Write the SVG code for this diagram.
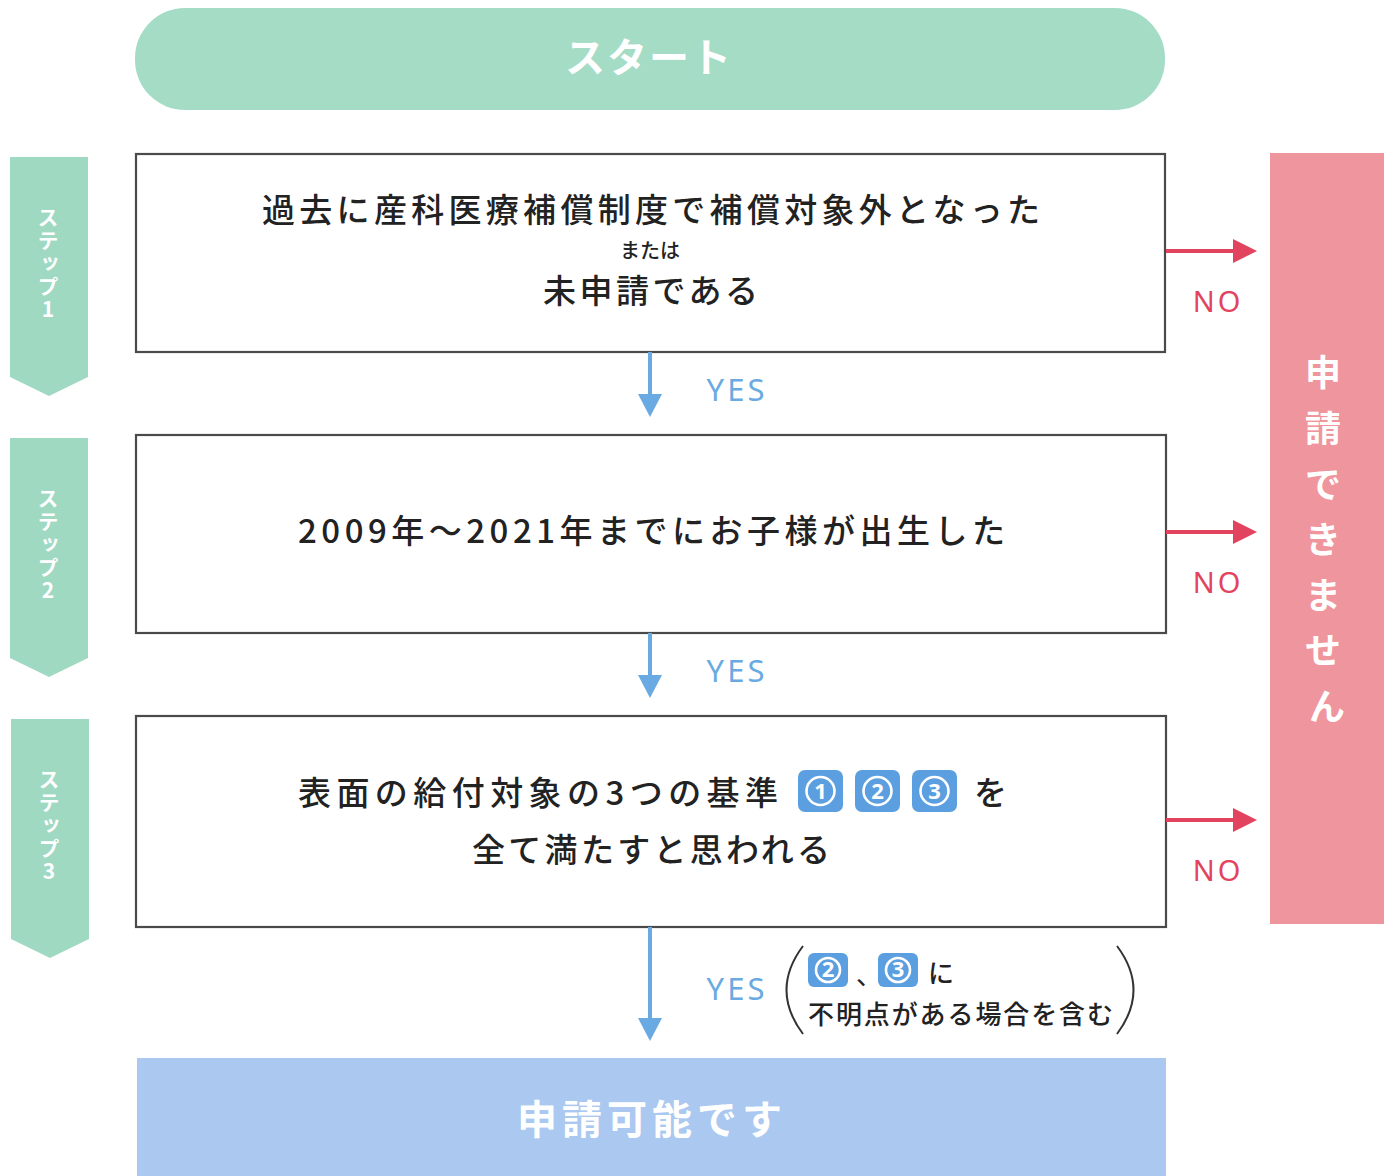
<svg xmlns="http://www.w3.org/2000/svg" width="1392" height="1176" viewBox="0 0 1392 1176">
<defs>
<style>
.jp{font-family:"Noto Sans CJK JP","Noto Sans",sans-serif;}
.box{fill:#fff;stroke:#4a4a4a;stroke-width:2.2;}
.main{font-size:33px;font-weight:500;fill:#222;}
.rib{fill:#a0d9c2;}
.ribt{font-size:21px;font-weight:700;fill:#fff;writing-mode:vertical-rl;text-orientation:upright;letter-spacing:2px;}
.yes{font-size:31px;fill:#6aaae2;letter-spacing:3px;font-family:"Noto Sans","Liberation Sans",sans-serif;}
.no{font-size:29px;fill:#e2435e;letter-spacing:3px;font-family:"Noto Sans","Liberation Sans",sans-serif;}
.blu{stroke:#6aaae2;stroke-width:4;fill:none;}
.red{stroke:#e2435e;stroke-width:4;fill:none;}
.badge{fill:#5c9fe0;}
.bnum{font-size:22px;font-weight:700;fill:#fff;font-family:"Noto Sans","Liberation Sans",sans-serif;}
.ring{fill:none;stroke:#fff;stroke-width:2.6;}
</style>
<marker id="ab" viewBox="0 0 24 24" markerWidth="24" markerHeight="24" refX="12" refY="0" orient="0" markerUnits="userSpaceOnUse">
<path d="M0,0 L24,0 L12,23 Z" fill="#6aaae2"/>
</marker>
<marker id="ar" viewBox="0 0 24 24" markerWidth="24" markerHeight="24" refX="0" refY="12" orient="0" markerUnits="userSpaceOnUse">
<path d="M0,0 L24,12 L0,24 Z" fill="#e2435e"/>
</marker>
</defs>
<rect width="1392" height="1176" fill="#fff"/>

<g id="start">
<rect x="135" y="8" width="1030" height="102" rx="50" fill="#a4dcc6"/>
<text class="jp" x="649" y="72" text-anchor="middle" font-size="40" font-weight="700" fill="#fff" letter-spacing="2">スタート</text>
</g>

<g id="step1-label">
<path class="rib" d="M10,157 H88 V377 L49,396 L10,377 Z"/>
<text class="jp ribt" x="48" y="207">ステップ1</text>
</g>
<g id="step2-label">
<path class="rib" d="M10,438 H88 V658 L49,677 L10,658 Z"/>
<text class="jp ribt" x="48" y="488">ステップ2</text>
</g>
<g id="step3-label">
<path class="rib" d="M11,719 H89 V939 L50,958 L11,939 Z"/>
<text class="jp ribt" x="49" y="769">ステップ3</text>
</g>

<g id="step1">
<rect class="box" x="136" y="154" width="1029" height="198"/>
<text class="jp main" x="262" y="222" textLength="778" lengthAdjust="spacing">過去に産科医療補償制度で補償対象外となった</text>
<text class="jp" x="650" y="258" text-anchor="middle" font-size="20" font-weight="500" fill="#222">または</text>
<text class="jp main" x="543" y="303" textLength="215" lengthAdjust="spacing">未申請である</text>
</g>

<g id="step2">
<rect class="box" x="136" y="435" width="1030" height="198"/>
<text class="jp main" x="298" y="543" textLength="707" lengthAdjust="spacing">2009年～2021年までにお子様が出生した</text>
</g>

<g id="step3">
<rect class="box" x="136" y="716" width="1030" height="211"/>
<text class="jp main" x="298" y="805" textLength="480" lengthAdjust="spacing">表面の給付対象の3つの基準</text>
<rect class="badge" x="798" y="770" width="45" height="42" rx="7"/>
<circle class="ring" cx="820.5" cy="791" r="14"/>
<text class="bnum" x="820.5" y="799" text-anchor="middle">1</text>
<rect class="badge" x="855" y="770" width="45" height="42" rx="7"/>
<circle class="ring" cx="877.5" cy="791" r="14"/>
<text class="bnum" x="877.5" y="799" text-anchor="middle">2</text>
<rect class="badge" x="912" y="770" width="45" height="42" rx="7"/>
<circle class="ring" cx="934.5" cy="791" r="14"/>
<text class="bnum" x="934.5" y="799" text-anchor="middle">3</text>
<text class="jp main" x="974" y="805">を</text>
<text class="jp main" x="472" y="862" textLength="358" lengthAdjust="spacing">全て満たすと思われる</text>
</g>

<g id="cannot">
<rect x="1270" y="153" width="114" height="771" fill="#ef959d"/>
<text class="jp" font-size="36" font-weight="700" fill="#fff" text-anchor="middle">
<tspan x="1327" y="386">申</tspan>
<tspan x="1327" y="442">請</tspan>
<tspan x="1327" y="498">で</tspan>
<tspan x="1327" y="553">き</tspan>
<tspan x="1327" y="609">ま</tspan>
<tspan x="1327" y="664">せ</tspan>
<tspan x="1327" y="720">ん</tspan>
</text>
</g>

<g id="possible">
<rect x="137" y="1058" width="1029" height="118" fill="#aac8f0"/>
<text class="jp" x="652" y="1134" text-anchor="middle" font-size="40" font-weight="700" fill="#fff" letter-spacing="5">申請可能です</text>
</g>

<g id="connectors">
<line class="blu" x1="650" y1="352" x2="650" y2="394" marker-end="url(#ab)"/>
<line class="blu" x1="650" y1="633" x2="650" y2="675" marker-end="url(#ab)"/>
<line class="blu" x1="650" y1="927" x2="650" y2="1018" marker-end="url(#ab)"/>
<text class="yes" x="737" y="401" text-anchor="middle">YES</text>
<text class="yes" x="737" y="682" text-anchor="middle">YES</text>
<text class="yes" x="737" y="1000" text-anchor="middle">YES</text>

<line class="red" x1="1166" y1="251" x2="1233" y2="251" marker-end="url(#ar)"/>
<line class="red" x1="1166" y1="532" x2="1233" y2="532" marker-end="url(#ar)"/>
<line class="red" x1="1166" y1="820" x2="1233" y2="820" marker-end="url(#ar)"/>
<text class="no" x="1218" y="312" text-anchor="middle">NO</text>
<text class="no" x="1218" y="593" text-anchor="middle">NO</text>
<text class="no" x="1218" y="881" text-anchor="middle">NO</text>
</g>

<g id="note">
<path d="M803,946 Q770,990 803,1034" fill="none" stroke="#333" stroke-width="2"/>
<path d="M1117,946 Q1150,990 1117,1034" fill="none" stroke="#333" stroke-width="2"/>
<rect class="badge" x="808" y="953" width="40" height="34" rx="6"/>
<circle class="ring" cx="828" cy="970" r="12"/>
<text class="bnum" x="828" y="977" text-anchor="middle" font-size="19">2</text>
<text class="jp" x="856" y="985" font-size="26" fill="#222">、</text>
<rect class="badge" x="878" y="953" width="40" height="34" rx="6"/>
<circle class="ring" cx="898" cy="970" r="12"/>
<text class="bnum" x="898" y="977" text-anchor="middle" font-size="19">3</text>
<text class="jp" x="928" y="983" font-size="26" font-weight="500" fill="#222">に</text>
<text class="jp" x="808" y="1024" font-size="26" font-weight="500" fill="#222" textLength="305" lengthAdjust="spacing">不明点がある場合を含む</text>
</g>
</svg>
